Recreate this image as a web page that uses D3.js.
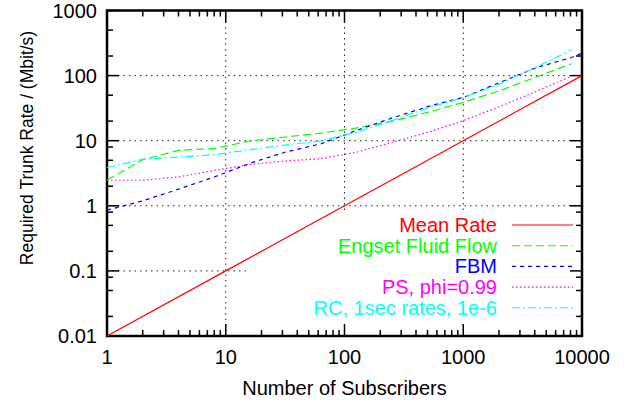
<!DOCTYPE html>
<html>
<head>
<meta charset="utf-8">
<script src="https://cdn.jsdelivr.net/npm/d3@7/dist/d3.min.js"></script>
<style>
  html, body { margin: 0; padding: 0; background: #fff; }
  svg { display: block; }
  text { font-family: "Liberation Sans", Arial, Helvetica, sans-serif; }
</style>
</head>
<body>
<svg id="chart" width="631" height="403"></svg>
<script>
// ---- data ----
const subscribers = [1, 2, 4, 8, 16, 32, 64, 128, 256, 512, 1024, 2048, 4096, 8192];
const meanRateX = [1, 10, 100, 1000, 10000];
const meanRate = [0.01, 0.1, 1, 10, 100];
const engset = [2.47, 5.1, 7.1, 7.6, 9.9, 11.4, 13.1, 15.7, 20.0, 27.5, 39.3, 59, 95, 152];
const fbmX = [1, 2, 4, 8, 16, 32, 64, 128, 256, 512, 1024, 2048, 4096, 8192, 10000];
const fbm = [0.86, 1.19, 1.8, 2.77, 4.5, 6.7, 9.0, 14.5, 22.6, 33.7, 46.7, 79, 132, 190, 222];
const ps = [2.47, 2.47, 2.77, 3.5, 4.3, 4.9, 5.3, 6.7, 9.5, 13.6, 20.6, 33.7, 57, 98];
const rc = [3.86, 5.2, 5.6, 6.1, 7.3, 8.6, 9.95, 13.6, 20.6, 32.2, 46.7, 75, 135, 250];
const xTickLabels = ["1", "10", "100", "1000", "10000"];
const yTickLabels = ["0.01", "0.1", "1", "10", "100", "1000"];
const legendLabels = ["Mean Rate", "Engset Fluid Flow", "FBM", "PS, phi=0.99", "RC, 1sec rates, 1e-6"];

// ---- layout ----
const svg = d3.select("#chart");
const L = 107, R = 582, T = 10.5, B = 336;
const x = d3.scaleLog().domain([1, 10000]).range([L, R]);
const y = d3.scaleLog().domain([0.01, 1000]).range([B, T]);

const xMajor = xTickLabels.map(Number);
const yMajor = yTickLabels.map(Number);
const xMinor = [];
for (let d = 1; d < 10000; d *= 10) for (let m = 2; m <= 9; m++) xMinor.push(d * m);
const yMinor = [];
for (let d = 0.01; d < 999; d *= 10) {
  const mults = d < 9 ? [2, 5, 8] : [2, 5];
  mults.forEach(m => yMinor.push(+(d * m).toPrecision(3)));
}

// grid
const grid = svg.append("g").attr("stroke", "#222").attr("stroke-width", 1)
  .attr("stroke-dasharray", "1.5,4").attr("fill", "none");
xMajor.slice(1, -1).forEach(v => {
  grid.append("line").attr("x1", x(v)).attr("x2", x(v)).attr("y1", T).attr("y2", B);
});
yMajor.slice(1, -1).forEach(v => {
  grid.append("line").attr("x1", L).attr("x2", R).attr("y1", y(v)).attr("y2", y(v));
});

// legend background (blanks grid)
svg.append("rect").attr("x", 250).attr("y", 210).attr("width", R - 250).attr("height", 114)
  .attr("fill", "#fff");

// ticks
const ticks = svg.append("g").attr("stroke", "#000").attr("stroke-width", 1.5);
const maj = 12, mnr = 6;
xMajor.forEach(v => {
  ticks.append("line").attr("x1", x(v)).attr("x2", x(v)).attr("y1", B).attr("y2", B - maj);
  ticks.append("line").attr("x1", x(v)).attr("x2", x(v)).attr("y1", T).attr("y2", T + maj);
});
xMinor.forEach(v => {
  ticks.append("line").attr("x1", x(v)).attr("x2", x(v)).attr("y1", B).attr("y2", B - mnr);
  ticks.append("line").attr("x1", x(v)).attr("x2", x(v)).attr("y1", T).attr("y2", T + mnr);
});
yMajor.forEach(v => {
  ticks.append("line").attr("x1", L).attr("x2", L + maj).attr("y1", y(v)).attr("y2", y(v));
  ticks.append("line").attr("x1", R).attr("x2", R - maj).attr("y1", y(v)).attr("y2", y(v));
});
yMinor.forEach(v => {
  ticks.append("line").attr("x1", L).attr("x2", L + mnr).attr("y1", y(v)).attr("y2", y(v));
  ticks.append("line").attr("x1", R).attr("x2", R - mnr).attr("y1", y(v)).attr("y2", y(v));
});

// border
svg.append("rect").attr("x", L).attr("y", T).attr("width", R - L).attr("height", B - T)
  .attr("fill", "none").attr("stroke", "#000").attr("stroke-width", 2.5);

// tick labels
svg.append("g").selectAll("text").data(xTickLabels).join("text")
  .attr("x", d => x(+d)).attr("y", 364).attr("text-anchor", "middle")
  .attr("font-size", 20).attr("fill", "#000").text(d => d);
svg.append("g").selectAll("text").data(yTickLabels).join("text")
  .attr("x", 97).attr("y", d => y(+d) + 7).attr("text-anchor", "end")
  .attr("font-size", 20).attr("fill", "#000").text(d => d);

// axis titles
svg.append("text").attr("x", (L + R) / 2).attr("y", 395).attr("text-anchor", "middle")
  .attr("font-size", 20).attr("fill", "#000").text("Number of Subscribers");
svg.append("text").attr("transform", "translate(33,148) rotate(-90)")
  .attr("text-anchor", "middle").attr("font-size", 17.5).attr("fill", "#000")
  .text("Required Trunk Rate / (Mbit/s)");

// series
const series = [
  { xs: meanRateX, ys: meanRate, color: "#ff0000", dash: null },
  { xs: subscribers, ys: engset, color: "#00ff00", dash: "8,4" },
  { xs: fbmX, ys: fbm, color: "#0000ff", dash: "4,4" },
  { xs: subscribers, ys: ps, color: "#ff00ff", dash: "1.5,2.5" },
  { xs: subscribers, ys: rc, color: "#00ffff", dash: "8,3,2,3" }
];
const line = d3.line().x(d => x(d[0])).y(d => y(d[1]));
const plot = svg.append("g");
series.forEach(s => {
  plot.append("path").datum(d3.zip(s.xs, s.ys))
    .attr("d", line).attr("fill", "none").attr("stroke", s.color)
    .attr("stroke-width", 1.2).attr("stroke-dasharray", s.dash);
});

// legend
const lg = svg.append("g");
legendLabels.forEach((lab, i) => {
  const cy = 225 + i * 20.7;
  lg.append("text").attr("x", 497).attr("y", cy + 7).attr("text-anchor", "end")
    .attr("font-size", 20).attr("fill", series[i].color).text(lab);
  lg.append("line").attr("x1", 512).attr("x2", 573).attr("y1", cy).attr("y2", cy)
    .attr("stroke", series[i].color).attr("stroke-width", 1.1)
    .attr("stroke-dasharray", series[i].dash);
});
</script>
</body>
</html>
